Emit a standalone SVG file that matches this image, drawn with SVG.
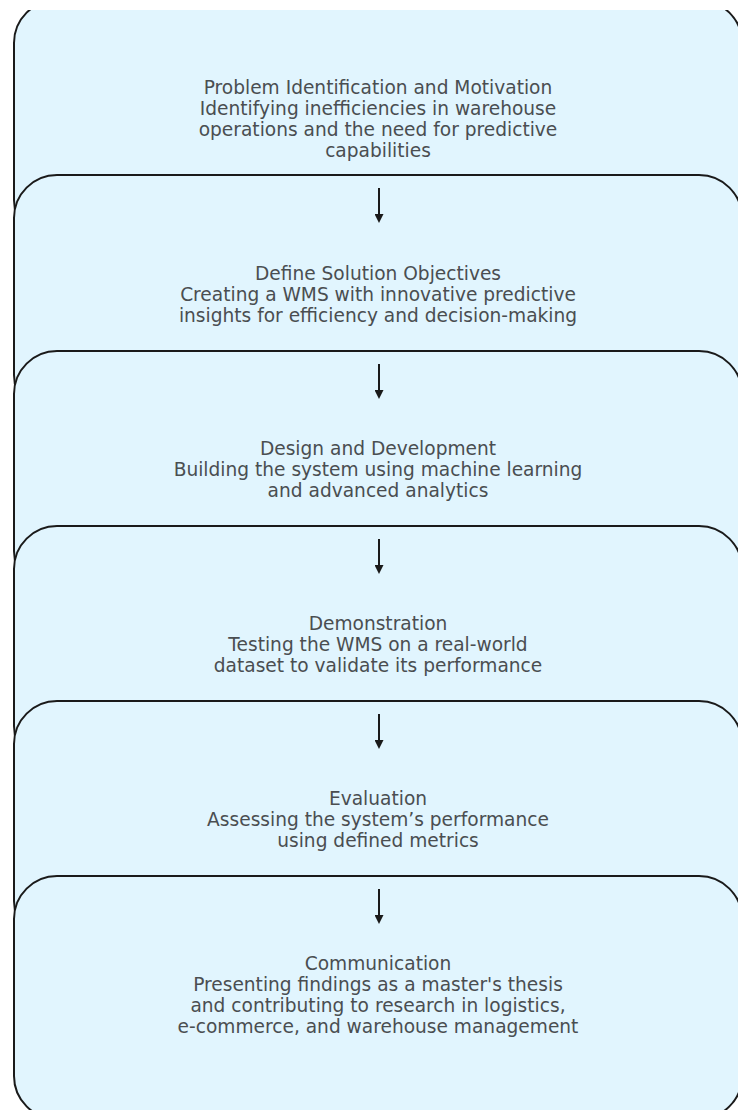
<svg xmlns="http://www.w3.org/2000/svg" width="738" height="1110" viewBox="0 0 738 1110">
  <style>
    .box { fill: #e1f5fe; stroke: #1a1a1a; stroke-width: 2; }
    .label { font-family: "DejaVu Sans", sans-serif; font-size: 18.6px; fill: #4a4e51; text-anchor: middle; }
    .arrow { stroke: #1a1a1a; stroke-width: 2; fill: none; marker-end: url(#head); }
  </style>
  <defs>
    <marker id="head" markerWidth="9" markerHeight="9" refX="1" refY="4.5" orient="auto" markerUnits="userSpaceOnUse" viewBox="0 0 9 9">
      <path d="M0,0 L9,4.5 L0,9 Z" fill="#1a1a1a"/>
    </marker>
  </defs>
  <rect x="0" y="0" width="738" height="1110" fill="#ffffff"/>

  <g id="node-problem">
    <rect class="box" x="14" y="0" width="728" height="243" rx="43" ry="43"/>
    <text class="label" x="378" y="94">Problem Identification and Motivation</text>
    <text class="label" x="378" y="115">Identifying inefficiencies in warehouse</text>
    <text class="label" x="378" y="136">operations and the need for predictive</text>
    <text class="label" x="378" y="157">capabilities</text>
  </g>

  <g id="node-objectives">
    <rect class="box" x="14" y="175" width="728" height="243" rx="43" ry="43"/>
    <text class="label" x="378" y="280">Define Solution Objectives</text>
    <text class="label" x="378" y="301">Creating a WMS with innovative predictive</text>
    <text class="label" x="378" y="322">insights for efficiency and decision-making</text>
  </g>

  <g id="node-design">
    <rect class="box" x="14" y="351" width="728" height="243" rx="43" ry="43"/>
    <text class="label" x="378" y="455">Design and Development</text>
    <text class="label" x="378" y="476">Building the system using machine learning</text>
    <text class="label" x="378" y="497">and advanced analytics</text>
  </g>

  <g id="node-demonstration">
    <rect class="box" x="14" y="526" width="728" height="243" rx="43" ry="43"/>
    <text class="label" x="378" y="630">Demonstration</text>
    <text class="label" x="378" y="651">Testing the WMS on a real-world</text>
    <text class="label" x="378" y="672">dataset to validate its performance</text>
  </g>

  <g id="node-evaluation">
    <rect class="box" x="14" y="701" width="728" height="243" rx="43" ry="43"/>
    <text class="label" x="378" y="805">Evaluation</text>
    <text class="label" x="378" y="826">Assessing the system’s performance</text>
    <text class="label" x="378" y="847">using defined metrics</text>
  </g>

  <g id="node-communication">
    <rect class="box" x="14" y="876" width="728" height="243" rx="43" ry="43"/>
    <text class="label" x="378" y="970">Communication</text>
    <text class="label" x="378" y="991">Presenting findings as a master's thesis</text>
    <text class="label" x="378" y="1012">and contributing to research in logistics,</text>
    <text class="label" x="378" y="1033">e-commerce, and warehouse management</text>
  </g>

  <g id="connectors">
    <line class="arrow" x1="379" y1="188" x2="379" y2="215"/>
    <line class="arrow" x1="379" y1="364" x2="379" y2="391"/>
    <line class="arrow" x1="379" y1="539" x2="379" y2="566"/>
    <line class="arrow" x1="379" y1="714" x2="379" y2="741"/>
    <line class="arrow" x1="379" y1="889" x2="379" y2="916"/>
  </g>

  <!-- blank margin strip along the top edge -->
  <rect x="0" y="0" width="738" height="10" fill="#ffffff"/>
</svg>
